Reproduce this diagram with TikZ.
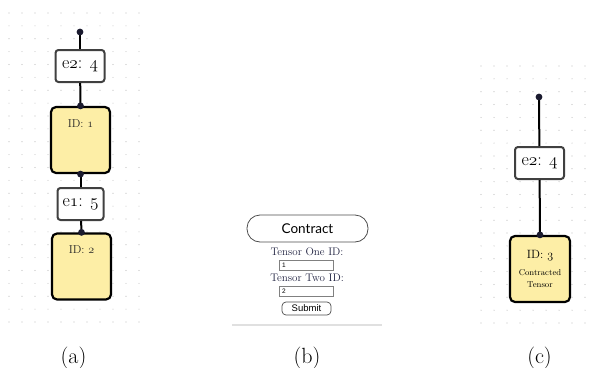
\documentclass[tikz,border=0pt]{standalone}
\usepackage{fontspec}
\newfontfamily\uifont{Lato}
\newfontfamily\btnfont{Liberation Sans}
\newcommand\osn[1]{{\usefont{OML}{cmm}{m}{it}#1}}
\definecolor{tensorfill}{RGB}{253,238,166}
\definecolor{dotnavy}{RGB}{27,27,47}
\definecolor{gridgray}{RGB}{190,190,190}
\definecolor{formnavy}{RGB}{32,34,64}

\begin{document}
\begin{tikzpicture}[x=1pt,y=-1pt,
    tensorbox/.style={draw=black,line width=2.2pt,fill=tensorfill,rounded corners=5pt,
      minimum width=59pt,minimum height=66pt,inner sep=0pt},
    edgebox/.style={draw=black!75,line width=2pt,fill=white,rounded corners=3pt,
      minimum height=32pt,inner sep=0pt,font=\fontsize{18}{20}\selectfont},
    idtext/.style={font=\fontsize{11.5}{13}\selectfont,text=black!85},
    leg/.style={line width=2pt},
    formtext/.style={font=\fontsize{11}{12}\selectfont,text=formnavy},
    inputbox/.style={draw=black!50,line width=0.6pt,minimum width=54pt,minimum height=10pt,
      text width=48pt,align=left,inner sep=2pt,font=\btnfont\fontsize{6.5}{7}\selectfont},
    caption/.style={font=\fontsize{22}{26}\selectfont,anchor=base}]
  \useasboundingbox (0,0) rectangle (597,367);

  % dot grids
  \foreach \i in {0,...,10}
    \foreach \j in {0,...,24}
      \path[fill=gridgray] (9+13*\i,13+12.875*\j) circle [radius=0.6pt];
  \foreach \i in {0,...,8}
    \foreach \j in {0,...,20}
      \path[fill=gridgray] (481+13*\i,66+12.85*\j) circle [radius=0.6pt];

  % (a)
  \coordinate (opena) at (80,32);
  \node[edgebox,minimum width=49pt] (e2a) at (80,66) {e\osn{2}: \osn{4}};
  \node[tensorbox,label={[idtext,anchor=north,yshift=-10pt]north:ID: \osn{1}}] (t1) at (80.5,140) {};
  \node[edgebox,minimum width=46pt] (e1) at (80.5,204) {e\osn{1}: \osn{5}};
  \node[tensorbox,label={[idtext,anchor=north,yshift=-10pt]north:ID: \osn{2}}] (t2) at (81.5,266.5) {};
  \draw[leg] (opena) -- (e2a);
  \draw[leg] (e2a) -- (t1.north);
  \draw[leg] (t1.south) -- (e1);
  \draw[leg] (e1) -- (t2.north);
  \path[fill=dotnavy] (opena) circle [radius=3.4pt];
  \path[fill=dotnavy] (t1.north) circle [radius=3.4pt];
  \path[fill=dotnavy] (t1.south) circle [radius=3.4pt];
  \path[fill=dotnavy] (t2.north) circle [radius=3.4pt];

  % (b)
  \node[draw=black!70,line width=0.8pt,rounded corners=13pt,minimum width=121pt,minimum height=27pt,
    font=\uifont\fontsize{13.5}{15}\selectfont] (contract) at (307.5,228.5) {Contract};
  \node[formtext] (lbl1) at (307,252) {Tensor One ID:};
  \node[inputbox] (in1) at (306,265) {1};
  \node[formtext] (lbl2) at (307,278) {Tensor Two ID:};
  \node[inputbox] (in2) at (306,291.5) {2};
  \node[draw=black!70,line width=0.7pt,rounded corners=4pt,minimum width=49pt,minimum height=13pt,
    inner sep=0pt,font=\btnfont\fontsize{9.5}{11}\selectfont] (submit) at (306.5,308.5) {Submit};
  \draw[black!12,line width=1.2pt] (232,325) -- (382,325);

  % (c)
  \coordinate (openc) at (539,97);
  \node[edgebox,minimum width=49pt] (e2c) at (539.5,163) {e\osn{2}: \osn{4}};
  \node[tensorbox,align=center,minimum width=60pt] (t3) at (540,269)
    {{\fontsize{12}{13}\selectfont ID: \osn{3}}\\[5pt]
     {\fontsize{8.5}{12}\selectfont Contracted}\\{\fontsize{8.5}{12}\selectfont Tensor}};
  \draw[leg] (openc) -- (e2c);
  \draw[leg] (e2c) -- (t3.north);
  \path[fill=dotnavy] (openc) circle [radius=3.4pt];
  \path[fill=dotnavy] (t3.north) circle [radius=3.4pt];

  % captions
  \node[caption] (capa) at (73.5,363) {(a)};
  \node[caption] (capb) at (307,363) {(b)};
  \node[caption] (capc) at (539.5,363) {(c)};
\end{tikzpicture}
\end{document}
